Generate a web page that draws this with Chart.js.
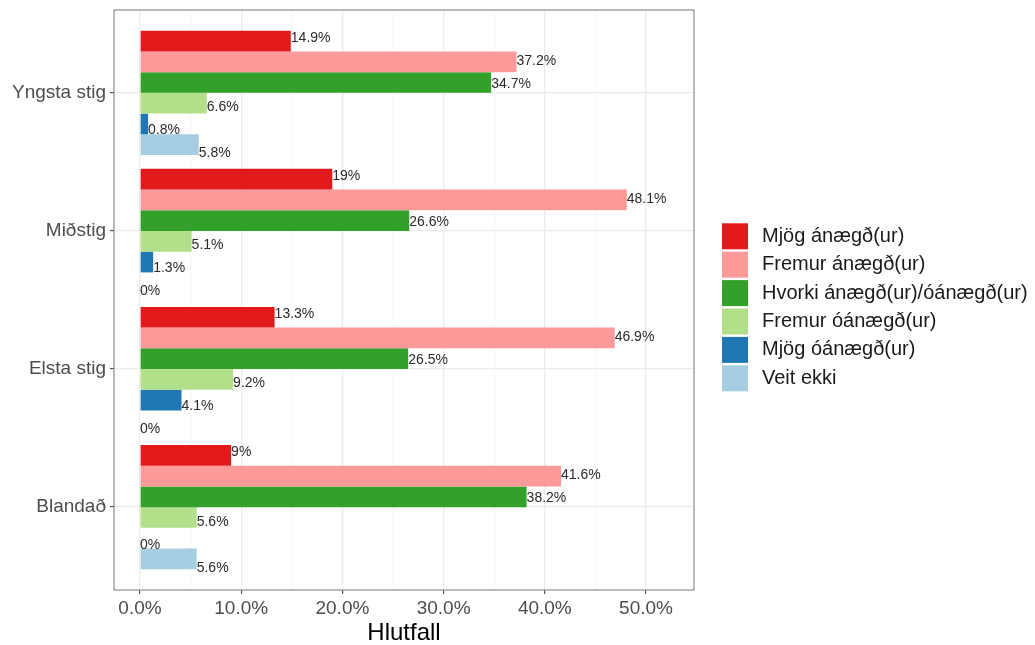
<!DOCTYPE html>
<html>
<head>
<meta charset="utf-8">
<script src="https://cdn.jsdelivr.net/npm/chart.js@4"></script>
<style>
html,body{margin:0;padding:0;background:#fff;}
#wrap{width:1035px;height:645px;}
</style>
</head>
<body>
<div id="wrap"><canvas id="c" width="1035" height="645"></canvas></div>
<script>
const categories = ["Yngsta stig", "Miðstig", "Elsta stig", "Blandað"];
const seriesNames = ["Mjög ánægð(ur)", "Fremur ánægð(ur)", "Hvorki ánægð(ur)/óánægð(ur)", "Fremur óánægð(ur)", "Mjög óánægð(ur)", "Veit ekki"];
const seriesColors = ["#E31A1C", "#FB9A99", "#33A02C", "#B2DF8A", "#1F78B4", "#A6CEE3"];
const mjogAnaegd = [14.9, 19, 13.3, 9];
const fremurAnaegd = [37.2, 48.1, 46.9, 41.6];
const hvorki = [34.7, 26.6, 26.5, 38.2];
const fremurOanaegd = [6.6, 5.1, 9.2, 5.6];
const mjogOanaegd = [0.8, 1.3, 4.1, 0];
const veitEkki = [5.8, 0, 0, 5.6];
const xTicks = [0, 5, 10, 15, 20, 25, 30, 35, 40, 45, 50];

const seriesValues = [mjogAnaegd, fremurAnaegd, hvorki, fremurOanaegd, mjogOanaegd, veitEkki];
const FONT = "'Liberation Sans', Arial, sans-serif";

const datasets = seriesValues.map((vals, i) => ({
  label: seriesNames[i],
  data: vals.map((v, j) => ({x: v, y: j + 1})),
  backgroundColor: seriesColors[i],
  borderWidth: 0,
  barPercentage: 1.0,
  categoryPercentage: 0.9
}));

const overlay = {
  id: 'overlay',
  afterDatasetsDraw(chart) {
    const ctx = chart.ctx;
    const ys = chart.scales.y;
    const step = (ys.getPixelForValue(2) - ys.getPixelForValue(1)) / 6;
    ctx.save();
    ctx.font = "14px " + FONT;
    ctx.fillStyle = "#2b2b2b";
    ctx.textAlign = "left";
    ctx.textBaseline = "middle";
    chart.data.datasets.forEach((ds, i) => {
      const meta = chart.getDatasetMeta(i);
      meta.data.forEach((el, j) => {
        const v = ds.data[j].x;
        const y = ys.getPixelForValue(j + 1) + (i - 2.5) * step + 3;
        ctx.fillText(String(v) + "%", el.x, y);
      });
    });
    ctx.restore();
  },
  afterDraw(chart) {
    const ctx = chart.ctx;
    const a = chart.chartArea;
    ctx.save();
    ctx.strokeStyle = "#8c8c8c";
    ctx.lineWidth = 1.2;
    ctx.strokeRect(a.left, a.top, a.right - a.left, a.bottom - a.top);
    // legend
    const x0 = 722, yc0 = 236.3, dy = 28.4, box = 26;
    ctx.font = "20px " + FONT;
    ctx.textAlign = "left";
    ctx.textBaseline = "middle";
    chart.data.datasets.forEach((ds, i) => {
      const yc = yc0 + i * dy;
      ctx.fillStyle = ds.backgroundColor;
      ctx.fillRect(x0, yc - box / 2, box, box);
      ctx.fillStyle = "#1a1a1a";
      ctx.fillText(ds.label, 762, yc);
    });
    ctx.restore();
  }
};

new Chart(document.getElementById('c'), {
  type: 'bar',
  data: { datasets },
  options: {
    responsive: false,
    animation: false,
    indexAxis: 'y',
    layout: { padding: { left: 0, right: 341, top: 10, bottom: 0 } },
    plugins: { legend: { display: false }, tooltip: { enabled: false } },
    scales: {
      y: {
        type: 'linear',
        min: 0.4,
        max: 4.6,
        reverse: true,
        offset: false,
        afterBuildTicks: (s) => { s.ticks = categories.map((c, j) => ({ value: j + 1 })); },
        afterFit: (s) => { s.width = 114; s.paddingTop = 0; s.paddingBottom = 0; },
        ticks: {
          callback: (v) => categories[Math.round(v) - 1],
          font: { family: FONT, size: 19, lineHeight: 1 },
          color: "#4d4d4d",
          padding: 4
        },
        grid: {
          offset: false,
          color: "#ebebeb",
          lineWidth: 1.3,
          tickLength: 4,
          tickColor: "#333333",
          tickWidth: 1
        },
        border: { display: false }
      },
      x: {
        type: 'linear',
        min: -2.57,
        max: 54.74,
        offset: false,
        afterBuildTicks: (s) => { s.ticks = xTicks.map(v => ({ value: v })); },
        afterFit: (s) => { s.height = 55; s.paddingLeft = 0; s.paddingRight = 0; },
        ticks: {
          callback: (v) => (v % 10 === 0 ? v.toFixed(1) + "%" : ""),
          font: { family: FONT, size: 19 },
          color: "#4d4d4d",
          padding: 3,
          maxRotation: 0,
          autoSkip: false
        },
        grid: {
          offset: false,
          color: (c) => (c.tick && c.tick.value % 10 === 0 ? "#ebebeb" : "#f3f3f3"),
          lineWidth: (c) => (c.tick && c.tick.value % 10 === 0 ? 1.3 : 0.8),
          tickLength: 4,
          tickColor: (c) => (c.tick && c.tick.value % 10 === 0 ? "#333333" : "rgba(0,0,0,0)"),
          tickWidth: 1
        },
        border: { display: false },
        title: {
          display: true,
          text: "Hlutfall",
          font: { family: FONT, size: 24, lineHeight: 1 },
          color: "#000000",
          padding: { top: 0, bottom: 0 }
        }
      }
    }
  },
  plugins: [overlay]
});
</script>
</body>
</html>
